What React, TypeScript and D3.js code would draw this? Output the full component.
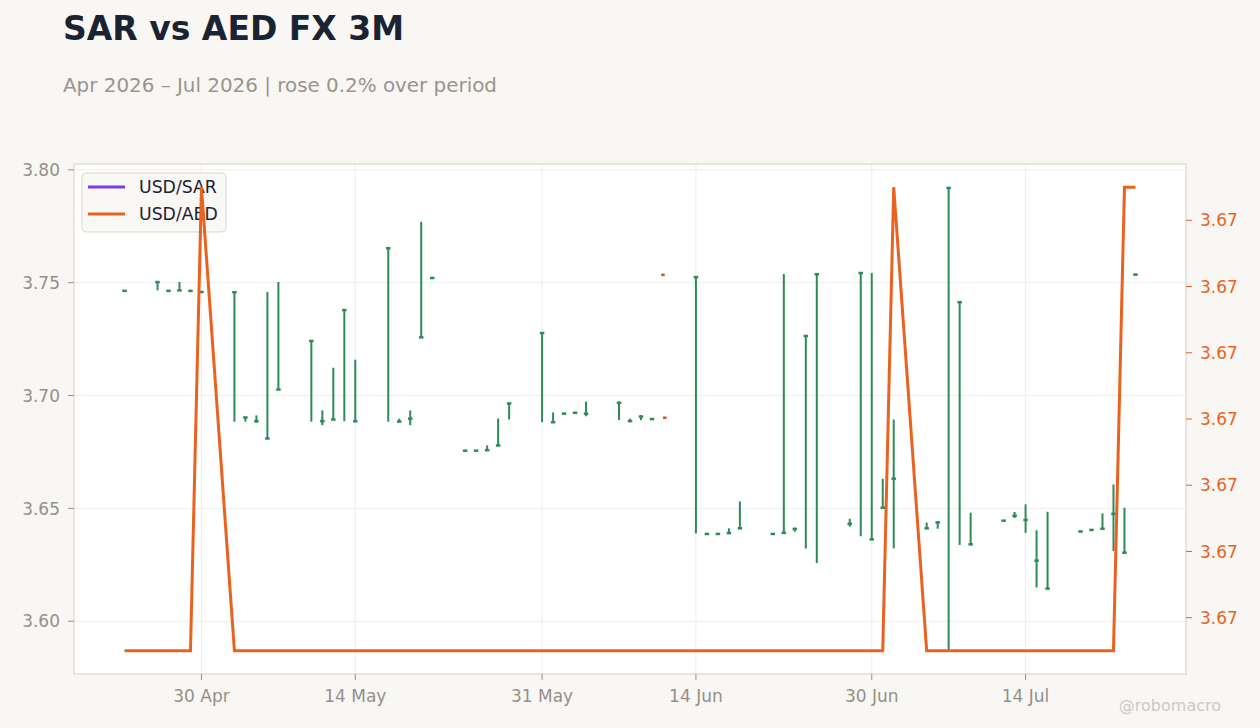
import React, { useRef, useEffect } from 'react';
import * as d3 from 'd3';

// trading days (UTC)
const dates = [
    '2026-04-23', '2026-04-26', '2026-04-27', '2026-04-28', '2026-04-29', '2026-04-30',
    '2026-05-03', '2026-05-04', '2026-05-05', '2026-05-06', '2026-05-07',
    '2026-05-10', '2026-05-11', '2026-05-12', '2026-05-13', '2026-05-14',
    '2026-05-17', '2026-05-18', '2026-05-19', '2026-05-20', '2026-05-21',
    '2026-05-24', '2026-05-25', '2026-05-26', '2026-05-27', '2026-05-28',
    '2026-05-31', '2026-06-01', '2026-06-02', '2026-06-03', '2026-06-04',
    '2026-06-07', '2026-06-08', '2026-06-09', '2026-06-10', '2026-06-11', '2026-06-11T04:00Z',
    '2026-06-14', '2026-06-15', '2026-06-16', '2026-06-17', '2026-06-18',
    '2026-06-21', '2026-06-22', '2026-06-23', '2026-06-24', '2026-06-25',
    '2026-06-28', '2026-06-29', '2026-06-30', '2026-07-01', '2026-07-02',
    '2026-07-05', '2026-07-06', '2026-07-07', '2026-07-08', '2026-07-09',
    '2026-07-12', '2026-07-13', '2026-07-14', '2026-07-15', '2026-07-16',
    '2026-07-19', '2026-07-20', '2026-07-21', '2026-07-22', '2026-07-23', '2026-07-24',
];

// USD/SAR OHLC
const sarOpen = [
    3.7465, 3.7503, 3.7465, 3.7466, 3.7465, 3.7460,
    3.7458, 3.6903, 3.6888, 3.6810, 3.7027,
    3.7242, 3.6888, 3.6894, 3.7379, 3.6886,
    3.7653, 3.6885, 3.6899, 3.7258, 3.7522,
    3.6757, 3.6757, 3.6758, 3.6779, 3.6965,
    3.7277, 3.6882, 3.6921, 3.6925, 3.6921,
    3.6968, 3.6888, 3.6906, 3.6897, 3.7538, 3.6905,
    3.7525, 3.6388, 3.6388, 3.6391, 3.6412,
    3.6388, 3.6392, 3.6409, 3.7264, 3.7538,
    3.6433, 3.7543, 3.6363, 3.6503, 3.6633,
    3.6412, 3.6438, 3.7920, 3.7414, 3.6341,
    3.6447, 3.6469, 3.6450, 3.6270, 3.6145,
    3.6399, 3.6406, 3.6410, 3.6477, 3.6304, 3.7537,
];
const sarHigh = [
    3.7467, 3.7506, 3.7467, 3.7503, 3.7469, 3.7462,
    3.7461, 3.6906, 3.6912, 3.7459, 3.7503,
    3.7245, 3.6934, 3.7123, 3.7382, 3.7159,
    3.7656, 3.6897, 3.6934, 3.7770, 3.7524,
    3.6759, 3.6759, 3.6779, 3.6898, 3.6968,
    3.7280, 3.6925, 3.6923, 3.6932, 3.6973,
    3.6973, 3.6897, 3.6913, 3.6899, 3.7538, 3.6905,
    3.7528, 3.6390, 3.6390, 3.6412, 3.6531,
    3.6390, 3.7538, 3.6415, 3.7267, 3.7541,
    3.6454, 3.7546, 3.7543, 3.6631, 3.6894,
    3.6437, 3.6444, 3.7923, 3.7417, 3.6481,
    3.6449, 3.6484, 3.6518, 3.6403, 3.6485,
    3.6401, 3.6408, 3.6478, 3.6606, 3.6503, 3.7539,
];
const sarLow = [
    3.7465, 3.7466, 3.7465, 3.7466, 3.7463, 3.7460,
    3.6884, 3.6884, 3.6879, 3.6810, 3.7027,
    3.6884, 3.6869, 3.6894, 3.6886, 3.6886,
    3.6884, 3.6884, 3.6869, 3.7258, 3.7522,
    3.6757, 3.6757, 3.6758, 3.6779, 3.6894,
    3.6882, 3.6882, 3.6921, 3.6925, 3.6908,
    3.6891, 3.6885, 3.6891, 3.6897, 3.7536, 3.6903,
    3.6389, 3.6388, 3.6388, 3.6389, 3.6412,
    3.6388, 3.6392, 3.6397, 3.6322, 3.6258,
    3.6419, 3.6377, 3.6363, 3.6503, 3.6323,
    3.6410, 3.6410, 3.5869, 3.6338, 3.6341,
    3.6447, 3.6457, 3.6392, 3.6149, 3.6145,
    3.6399, 3.6406, 3.6410, 3.6311, 3.6304, 3.7537,
];
const sarClose = [
    3.7467, 3.7506, 3.7467, 3.7469, 3.7467, 3.7462,
    3.7461, 3.6906, 3.6890, 3.6813, 3.7030,
    3.7245, 3.6890, 3.6897, 3.7382, 3.6889,
    3.7656, 3.6888, 3.6901, 3.7261, 3.7524,
    3.6759, 3.6759, 3.6761, 3.6782, 3.6968,
    3.7280, 3.6885, 3.6923, 3.6927, 3.6923,
    3.6971, 3.6890, 3.6910, 3.6899, 3.7536, 3.6903,
    3.7528, 3.6390, 3.6390, 3.6394, 3.6415,
    3.6390, 3.6395, 3.6412, 3.7267, 3.7541,
    3.6435, 3.7546, 3.6366, 3.6506, 3.6635,
    3.6415, 3.6441, 3.7923, 3.7417, 3.6344,
    3.6449, 3.6471, 3.6452, 3.6272, 3.6148,
    3.6401, 3.6408, 3.6413, 3.6479, 3.6307, 3.7539,
];

// USD/AED close (right axis)
const aed = [
    3.67245, 3.67245, 3.67245, 3.67245, 3.67245, 3.67315,
    3.67245, 3.67245, 3.67245, 3.67245, 3.67245,
    3.67245, 3.67245, 3.67245, 3.67245, 3.67245,
    3.67245, 3.67245, 3.67245, 3.67245, 3.67245,
    3.67245, 3.67245, 3.67245, 3.67245, 3.67245,
    3.67245, 3.67245, 3.67245, 3.67245, 3.67245,
    3.67245, 3.67245, 3.67245, 3.67245, 3.67245, 3.67245,
    3.67245, 3.67245, 3.67245, 3.67245, 3.67245,
    3.67245, 3.67245, 3.67245, 3.67245, 3.67245,
    3.67245, 3.67245, 3.67245, 3.67245, 3.67315,
    3.67245, 3.67245, 3.67245, 3.67245, 3.67245,
    3.67245, 3.67245, 3.67245, 3.67245, 3.67245,
    3.67245, 3.67245, 3.67245, 3.67245, 3.67315, 3.67315,
];

const leftTicks = [3.60, 3.65, 3.70, 3.75, 3.80];
const rightTicks = [3.6725, 3.6726, 3.6727, 3.6728, 3.6729, 3.6730, 3.6731];
const dateTicks = ['2026-04-30', '2026-05-14', '2026-05-31', '2026-06-14', '2026-06-30', '2026-07-14'];
const seriesNames = ['USD/SAR', 'USD/AED'];

const W = 1260;
const H = 728;
const FONT = '"DejaVu Sans", sans-serif';
const GREEN = '#2e8b57';
const RED = '#d4502c';
const ORANGE = '#ea621f';
const PURPLE = '#7c3aed';
const GREY = '#958f89';

function FxChart() {
    const svgRef = useRef<SVGSVGElement>(null);

    useEffect(() => {
        if (!svgRef.current) return;
        const svg = d3.select(svgRef.current);
        svg.selectAll('*').remove();

        const m = { left: 74, right: 1186, top: 164, bottom: 674 };
        const parse = (s: string) => new Date(s.length === 10 ? s + 'T00:00:00Z' : s);
        const t = dates.map(parse);
        const data = t.map((d, i) => ({ d, o: sarOpen[i], h: sarHigh[i], l: sarLow[i], c: sarClose[i], a: aed[i] }));

        // 5% margins like the source
        const pad = (lo: number, hi: number) => [lo - (hi - lo) * 0.05, hi + (hi - lo) * 0.05];
        const [t0, t1] = d3.extent(t) as [Date, Date];
        const [x0, x1] = pad(+t0, +t1);
        const x = d3.scaleUtc().domain([new Date(x0), new Date(x1)]).range([m.left, m.right]);
        const y = d3.scaleLinear().domain(pad(d3.min(sarLow)!, d3.max(sarHigh)!)).range([m.bottom, m.top]);
        const y2 = d3.scaleLinear().domain(pad(d3.min(aed)!, d3.max(aed)!)).range([m.bottom, m.top]);

        svg.append('rect').attr('width', W).attr('height', H).attr('fill', '#f8f7f4');

        // titles
        svg.append('text').attr('x', 63).attr('y', 40).text('SAR vs AED FX 3M')
            .attr('font-family', FONT).attr('font-size', 33).attr('font-weight', 'bold').attr('fill', '#1b2333');
        svg.append('text').attr('x', 63).attr('y', 92).text('Apr 2026 – Jul 2026 | rose 0.2% over period')
            .attr('font-family', FONT).attr('font-size', 19.9).attr('fill', '#9a948e');

        svg.append('rect').attr('x', m.left).attr('y', m.top)
            .attr('width', m.right - m.left).attr('height', m.bottom - m.top).attr('fill', '#ffffff');

        // grid
        const grid = svg.append('g').attr('stroke', '#ededed').attr('stroke-width', 1);
        leftTicks.forEach(v => {
            grid.append('line').attr('x1', m.left).attr('x2', m.right).attr('y1', y(v)).attr('y2', y(v));
        });
        dateTicks.forEach(s => {
            const xv = x(parse(s));
            grid.append('line').attr('x1', xv).attr('x2', xv).attr('y1', m.top).attr('y2', m.bottom);
        });

        // frame
        svg.append('rect').attr('x', m.left).attr('y', m.top)
            .attr('width', m.right - m.left).attr('height', m.bottom - m.top)
            .attr('fill', 'none').attr('stroke', '#ddd8d1').attr('stroke-width', 1.2);

        // left axis
        leftTicks.forEach(v => {
            svg.append('line').attr('x1', m.left - 6).attr('x2', m.left).attr('y1', y(v)).attr('y2', y(v))
                .attr('stroke', GREY).attr('stroke-width', 1);
            svg.append('text').attr('x', m.left - 14).attr('y', y(v)).attr('dy', '0.36em')
                .attr('text-anchor', 'end').attr('font-family', FONT).attr('font-size', 17)
                .attr('fill', GREY).text(d3.format('.2f')(v));
        });
        // right axis
        rightTicks.forEach(v => {
            svg.append('line').attr('x1', m.right).attr('x2', m.right + 6).attr('y1', y2(v)).attr('y2', y2(v))
                .attr('stroke', ORANGE).attr('stroke-width', 1);
            svg.append('text').attr('x', m.right + 14).attr('y', y2(v)).attr('dy', '0.36em')
                .attr('font-family', FONT).attr('font-size', 17)
                .attr('fill', ORANGE).text(d3.format('.2f')(v));
        });
        // bottom axis
        dateTicks.forEach(s => {
            const xv = x(parse(s));
            svg.append('line').attr('x1', xv).attr('x2', xv).attr('y1', m.bottom).attr('y2', m.bottom + 6)
                .attr('stroke', GREY).attr('stroke-width', 1);
            svg.append('text').attr('x', xv).attr('y', 702).attr('text-anchor', 'middle')
                .attr('font-family', FONT).attr('font-size', 17).attr('fill', GREY)
                .text(d3.utcFormat('%-d %b')(parse(s)));
        });

        // candles
        const candles = svg.append('g');
        data.forEach(p => {
            const up = p.c >= p.o;
            const col = up ? GREEN : RED;
            const cx = x(p.d);
            if (y(p.l) - y(p.h) > 2) {
                candles.append('line').attr('x1', cx).attr('x2', cx).attr('y1', y(p.h)).attr('y2', y(p.l))
                    .attr('stroke', col).attr('stroke-width', 2);
            }
            const bw = up ? 4.5 : 3.5;
            const top = y(Math.max(p.o, p.c));
            const hgt = Math.max(Math.abs(y(p.o) - y(p.c)), 2.5);
            candles.append('rect').attr('x', cx - bw / 2).attr('y', top - (hgt > Math.abs(y(p.o) - y(p.c)) ? 0.5 : 0))
                .attr('width', bw).attr('height', hgt).attr('fill', col);
        });

        // legend
        const lg = svg.append('g');
        lg.append('rect').attr('x', 82).attr('y', 173).attr('width', 144).attr('height', 59).attr('rx', 4)
            .attr('fill', '#f8f7f4').attr('fill-opacity', 0.9).attr('stroke', '#dcd7d0');
        seriesNames.forEach((n, i) => {
            const ly = 187 + i * 27;
            lg.append('line').attr('x1', 88).attr('x2', 125).attr('y1', ly).attr('y2', ly)
                .attr('stroke', i === 0 ? PURPLE : ORANGE).attr('stroke-width', 3);
            lg.append('text').attr('x', 139).attr('y', ly).attr('dy', '0.36em')
                .attr('font-family', FONT).attr('font-size', 17.3).attr('fill', '#1b2333').text(n);
        });

        // AED line (drawn over legend)
        const line = d3.line<typeof data[number]>().x(p => x(p.d)).y(p => y2(p.a));
        svg.append('path').datum(data).attr('d', line).attr('fill', 'none')
            .attr('stroke', ORANGE).attr('stroke-width', 3).attr('stroke-linejoin', 'miter');

        svg.append('text').attr('x', 1221).attr('y', 711).attr('text-anchor', 'end')
            .attr('font-family', FONT).attr('font-size', 16).attr('fill', '#cdc9c4').text('@robomacro');
    }, []);

    return <svg ref={svgRef} width={W} height={H} style={{ position: 'absolute', left: 0, top: 0 }} />;
}

export default function App() {
    return <FxChart />;
}
